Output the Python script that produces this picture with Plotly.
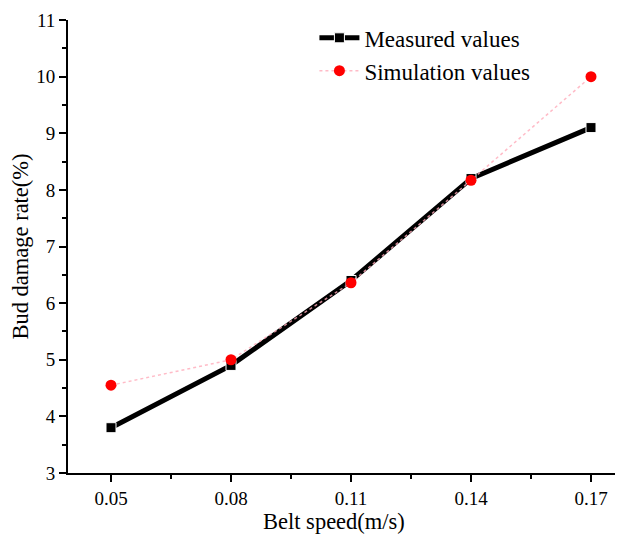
import plotly.graph_objects as go

belt_speed = [0.05, 0.08, 0.11, 0.14, 0.17]
measured = [3.8, 4.9, 6.4, 8.2, 9.1]
simulation = [4.55, 5.0, 6.36, 8.17, 10.0]
x_ticks = [0.05, 0.08, 0.11, 0.14, 0.17]
x_tick_labels = ["0.05", "0.08", "0.11", "0.14", "0.17"]

font_family = "Liberation Serif, Times New Roman, serif"

fig = go.Figure()
fig.add_trace(go.Scatter(
    x=belt_speed, y=measured, name="Measured values",
    mode="lines+markers",
    line=dict(color="black", width=5),
    marker=dict(symbol="square", size=10, color="black", line=dict(color="white", width=1)),
))
fig.add_trace(go.Scatter(
    x=belt_speed, y=simulation, name="Simulation values",
    mode="lines+markers",
    line=dict(color="rgba(255,170,185,0.8)", width=1.5, dash="dot"),
    marker=dict(symbol="circle", size=11, color="red"),
))

axis_common = dict(
    showline=True, linecolor="black", linewidth=2,
    ticks="outside", tickcolor="black", tickwidth=2, ticklen=7,
    showgrid=False, zeroline=False, mirror=False, automargin=False,
    tickfont=dict(family=font_family, size=19, color="black"),
)

fig.update_layout(
    width=615, height=526,
    margin=dict(l=60, r=0, t=12, b=61),
    paper_bgcolor="white", plot_bgcolor="white",
    font=dict(family=font_family, color="black"),
    showlegend=True,
    legend=dict(
        x=0.444, y=1.008, xanchor="left", yanchor="top",
        bgcolor="rgba(0,0,0,0)",
        font=dict(family=font_family, size=23, color="black"),
        tracegroupgap=0, itemwidth=40,
    ),
    xaxis=dict(
        range=[0.03925, 0.178],
        tickvals=x_ticks, ticktext=x_tick_labels,
        minor=dict(tickvals=[0.065, 0.095, 0.125, 0.155], ticks="outside",
                   ticklen=4, tickwidth=2, tickcolor="black"),
        **axis_common,
    ),
    yaxis=dict(
        range=[3, 11], dtick=1, tick0=3,
        minor=dict(dtick=0.5, ticks="outside", ticklen=4, tickwidth=2, tickcolor="black"),
        title=dict(text="Bud damage rate(%)", font=dict(family=font_family, size=22.5), standoff=8),
        **axis_common,
    ),
    annotations=[dict(
        text="Belt speed(m/s)", xref="paper", yref="paper",
        x=0.479, y=-0.108, xanchor="center", yanchor="middle",
        showarrow=False, font=dict(family=font_family, size=22.5, color="black"),
    )],
)

fig.write_html("out.html")
